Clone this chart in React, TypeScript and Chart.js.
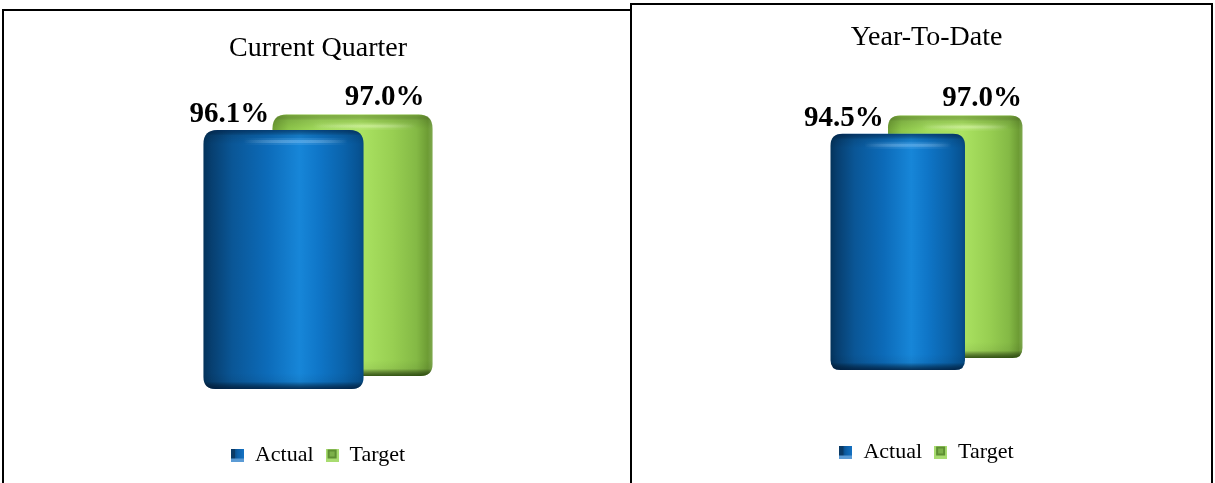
import React, { useEffect, useRef } from 'react';
import { Chart, registerables } from 'chart.js';

Chart.register(...registerables);

// ---------- data ----------
const categories = [''];
const seriesNames = ['Actual', 'Target'];
const quarterTitle = 'Current Quarter';
const quarterActual = [96.1];
const quarterTarget = [97.0];
const ytdTitle = 'Year-To-Date';
const ytdActual = [94.5];
const ytdTarget = [97.0];
const yMin = 0;
const yMax = 100;

const SERIF = '"Liberation Serif", "Times New Roman", Times, serif';

type CylStyle = {
  stops: [number, string][];
  topEdge: string;
  highlight: string;
  bottomShade: string;
};

const STYLES: CylStyle[] = [
  {
    stops: [
      [0, '#03335b'], [0.05, '#073f70'], [0.18, '#0a5696'], [0.4, '#0c6bb9'],
      [0.6, '#1786d8'], [0.72, '#0f76c8'], [0.88, '#0a62aa'], [0.97, '#075393'], [1, '#064a82'],
    ],
    topEdge: 'rgba(0,30,70,0.6)',
    highlight: 'rgba(120,190,245,0.8)',
    bottomShade: 'rgba(0,25,55,0.8)',
  },
  {
    stops: [
      [0, '#6f9f35'], [0.1, '#8cc44a'], [0.3, '#a2db5c'], [0.55, '#abe362'],
      [0.75, '#98cf52'], [0.9, '#84b945'], [0.97, '#6d9c34'], [1, '#7ea84e'],
    ],
    topEdge: 'rgba(110,150,50,0.55)',
    highlight: 'rgba(225,250,180,0.8)',
    bottomShade: 'rgba(35,65,10,0.85)',
  },
];

const SOLID = ['#0c67b4', '#8cc44a'];

function rrPath(ctx: CanvasRenderingContext2D, l: number, t: number, w: number, h: number, rt: number, rb: number) {
  const r = l + w;
  const b = t + h;
  ctx.beginPath();
  ctx.moveTo(l + rt, t);
  ctx.lineTo(r - rt, t);
  ctx.quadraticCurveTo(r, t, r, t + rt);
  ctx.lineTo(r, b - rb);
  ctx.quadraticCurveTo(r, b, r - rb, b);
  ctx.lineTo(l + rb, b);
  ctx.quadraticCurveTo(l, b, l, b - rb);
  ctx.lineTo(l, t + rt);
  ctx.quadraticCurveTo(l, t, l + rt, t);
  ctx.closePath();
}

function drawCylinder(ctx: CanvasRenderingContext2D, x: number, top: number, base: number, w: number, s: CylStyle) {
  const l = x - w / 2;
  const r = x + w / 2;
  const h = base - top;
  const rt = Math.min(14, w * 0.09);
  const rb = Math.min(12, w * 0.075);
  ctx.save();
  rrPath(ctx, l, top, w, h, rt, rb);
  const g = ctx.createLinearGradient(l, 0, r, 0);
  s.stops.forEach(([o, c]) => g.addColorStop(o, c));
  ctx.fillStyle = g;
  ctx.fill();
  ctx.clip();
  // top rim
  const tg = ctx.createLinearGradient(0, top, 0, top + 22);
  tg.addColorStop(0, s.topEdge);
  tg.addColorStop(0.25, 'rgba(0,0,0,0.1)');
  tg.addColorStop(0.65, 'rgba(0,0,0,0)');
  tg.addColorStop(1, 'rgba(0,0,0,0)');
  ctx.fillStyle = tg;
  ctx.fillRect(l, top, w, 22);
  // highlight line on cap
  const hg = ctx.createLinearGradient(l, 0, r, 0);
  hg.addColorStop(0, 'rgba(255,255,255,0)');
  hg.addColorStop(0.25, 'rgba(255,255,255,0)');
  hg.addColorStop(0.6, s.highlight);
  hg.addColorStop(0.9, 'rgba(255,255,255,0)');
  hg.addColorStop(1, 'rgba(255,255,255,0)');
  ctx.fillStyle = hg;
  ctx.globalAlpha = 0.55;
  ctx.fillRect(l, top + 10, w, 3);
  ctx.globalAlpha = 0.25;
  ctx.fillRect(l, top + 8, w, 7);
  ctx.globalAlpha = 1;
  // bottom shade
  const bg = ctx.createLinearGradient(0, base - 16, 0, base);
  bg.addColorStop(0, 'rgba(0,0,0,0)');
  bg.addColorStop(0.55, 'rgba(0,0,0,0.06)');
  bg.addColorStop(1, s.bottomShade);
  ctx.fillStyle = bg;
  ctx.fillRect(l, base - 16, w, 16);
  ctx.restore();
}

const cylinderPlugin = {
  id: 'cylinders',
  beforeDatasetDraw(chart: any, args: any, opts: any) {
    const ctx = chart.ctx as CanvasRenderingContext2D;
    const idx = args.index;
    const dy = idx === 1 ? opts.depthY || 0 : 0;
    args.meta.data.forEach((bar: any) => {
      const p = bar.getProps(['x', 'y', 'base', 'width'], true);
      drawCylinder(ctx, p.x, p.y - dy, p.base - dy, p.width, STYLES[idx]);
    });
    return false;
  },
  afterDatasetsDraw(chart: any, _args: any, opts: any) {
    const ctx = chart.ctx as CanvasRenderingContext2D;
    ctx.save();
    ctx.font = `bold 29px ${SERIF}`;
    ctx.fillStyle = '#000';
    ctx.textAlign = 'center';
    ctx.textBaseline = 'alphabetic';
    chart.data.datasets.forEach((ds: any, i: number) => {
      const meta = chart.getDatasetMeta(i);
      const dy = i === 1 ? opts.depthY || 0 : 0;
      meta.data.forEach((bar: any, j: number) => {
        const p = bar.getProps(['x', 'y', 'width'], true);
        const v = ds.data[j] as number;
        const txt = v.toFixed(1) + '%';
        if (i === 0) ctx.fillText(txt, p.x - 54, p.y - 8);
        else ctx.fillText(txt, p.x + p.width * 0.2, p.y - dy - 10);
      });
    });
    ctx.restore();
  },
};

function makeIcon(i: number): HTMLCanvasElement {
  const c = document.createElement('canvas');
  c.width = 13;
  c.height = 13;
  const x = c.getContext('2d')!;
  if (i === 0) {
    x.fillStyle = '#5b9bd5';
    x.fillRect(0, 0, 13, 13);
    const g = x.createLinearGradient(0, 0, 13, 0);
    g.addColorStop(0, '#0b3a63');
    g.addColorStop(0.5, '#0c5ea6');
    g.addColorStop(1, '#1573c4');
    x.fillStyle = g;
    x.fillRect(0, 0, 13, 10);
    x.fillStyle = '#0a3a66';
    x.fillRect(0, 0, 4, 10);
  } else {
    x.fillStyle = '#a8dc70';
    x.fillRect(0, 0, 13, 13);
    x.fillStyle = '#5e8f32';
    x.fillRect(2, 1, 9, 9);
    x.fillStyle = '#7cb049';
    x.fillRect(4, 3, 5, 5);
  }
  return c;
}

type PanelCfg = {
  title: string;
  actual: number[];
  target: number[];
  width: number;
  height: number;
  titlePad: { top: number; bottom: number };
  layoutPad: { left: number; right: number; top: number; bottom: number };
  xHeight: number;
  catPct: number;
  barPct: number;
  depthY: number;
};

function CylinderChart({ cfg }: { cfg: PanelCfg }) {
  const ref = useRef<HTMLCanvasElement | null>(null);
  useEffect(() => {
    if (!ref.current) return;
    const icons = [makeIcon(0), makeIcon(1)];
    const chart = new Chart(ref.current, {
      type: 'bar',
      data: {
        labels: categories,
        datasets: [
          { label: seriesNames[0], data: cfg.actual, backgroundColor: SOLID[0], borderWidth: 0, categoryPercentage: cfg.catPct, barPercentage: cfg.barPct, clip: false } as any,
          { label: seriesNames[1], data: cfg.target, backgroundColor: SOLID[1], borderWidth: 0, categoryPercentage: cfg.catPct, barPercentage: cfg.barPct, clip: false } as any,
        ],
      },
      options: {
        responsive: false,
        animation: false,
        events: [],
        layout: { padding: cfg.layoutPad },
        scales: {
          x: {
            display: true,
            grid: { display: false },
            border: { display: false },
            ticks: { display: false },
            afterFit: (scale: any) => {
              scale.height = cfg.xHeight;
            },
          },
          y: { display: false, min: yMin, max: yMax },
        },
        plugins: {
          title: {
            display: true,
            text: cfg.title,
            color: '#000',
            font: { family: SERIF, size: 28, weight: 'normal' },
            padding: cfg.titlePad,
          },
          legend: {
            display: true,
            position: 'bottom',
            labels: {
              color: '#000',
              font: { family: SERIF, size: 22 },
              boxWidth: 13,
              boxHeight: 13,
              usePointStyle: true,
              padding: 12,
              generateLabels: () =>
                seriesNames.map((name, i) => ({
                  text: name,
                  fillStyle: SOLID[i],
                  strokeStyle: SOLID[i],
                  lineWidth: 0,
                  pointStyle: icons[i],
                  hidden: false,
                  datasetIndex: i,
                  fontColor: '#000',
                })) as any,
            },
          },
          tooltip: { enabled: false },
          cylinders: { depthY: cfg.depthY },
        } as any,
      },
      plugins: [cylinderPlugin as any],
    });
    return () => chart.destroy();
  }, [cfg]);
  return <canvas ref={ref} width={cfg.width} height={cfg.height} style={{ display: 'block', width: cfg.width, height: cfg.height }} />;
}

const leftCfg: PanelCfg = {
  title: quarterTitle,
  actual: quarterActual,
  target: quarterTarget,
  width: 626,
  height: 472,
  titlePad: { top: 21, bottom: 53.9 },
  layoutPad: { left: 2, right: 0, top: 0, bottom: 7 },
  xHeight: 43,
  catPct: 0.2212,
  barPct: 2.32,
  depthY: 13,
};

const rightCfg: PanelCfg = {
  title: ytdTitle,
  actual: ytdActual,
  target: ytdTarget,
  width: 579,
  height: 478,
  titlePad: { top: 16, bottom: 65.4 },
  layoutPad: { left: 10, right: 0, top: 0, bottom: 10 },
  xHeight: 59,
  catPct: 0.2021,
  barPct: 2.339,
  depthY: 12,
};

export default function App() {
  return (
    <div style={{ position: 'fixed', left: 0, top: 0, width: 1215, height: 483, background: '#fff', overflow: 'hidden' }}>
      <div style={{ position: 'absolute', left: 2, top: 9, width: 626, height: 480, borderTop: '2px solid #000', borderLeft: '2px solid #000', borderRight: '2px solid #000' }}>
        <CylinderChart cfg={leftCfg} />
      </div>
      <div style={{ position: 'absolute', left: 630, top: 3, width: 579, height: 486, borderTop: '2px solid #000', borderLeft: '2px solid #000', borderRight: '2px solid #000', background: '#fff' }}>
        <CylinderChart cfg={rightCfg} />
      </div>
    </div>
  );
}
